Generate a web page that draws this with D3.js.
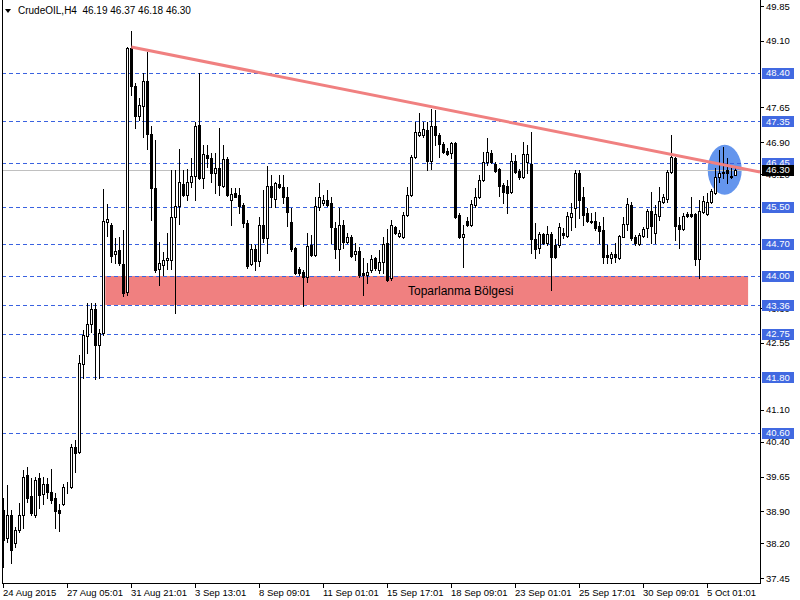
<!DOCTYPE html>
<html><head><meta charset="utf-8">
<script src="https://cdn.jsdelivr.net/npm/d3@7"></script>
<style>body{margin:0;background:#fff}svg{display:block}</style>
</head><body>
<svg id="c" width="800" height="600"></svg>
<script>
const symbol = "CrudeOIL,H4";
const open = [38.92,38.32,38.81,38.20,38.49,38.81,39.68,39.23,38.81,39.62,39.27,39.49,39.32,39.19,38.92,39.05,39.40,39.42,40.29,40.18,42.09,42.70,42.95,43.28,42.50,42.76,45.17,45.10,44.47,44.56,44.26,43.65,48.94,48.12,47.47,47.68,48.22,47.07,45.90,44.15,44.23,44.34,44.34,45.28,45.51,45.99,45.75,46.03,46.16,47.27,46.12,46.62,46.56,46.23,46.34,45.95,46.53,45.64,45.79,45.75,45.53,45.15,44.26,44.58,44.32,45.10,44.82,45.95,45.67,45.99,45.93,45.71,45.17,44.60,44.15,44.08,43.98,44.67,44.45,45.49,45.58,45.64,45.58,45.04,44.58,45.10,44.74,44.85,44.47,44.54,44.06,44.02,44.13,44.39,44.13,44.30,44.71,43.95,45.06,44.87,44.85,45.32,45.75,46.58,47.05,47.05,47.16,46.49,47.25,47.05,46.86,46.71,46.66,46.88,45.32,44.85,45.19,45.10,45.53,45.71,46.08,46.47,46.66,46.43,46.32,45.97,45.95,45.82,46.49,46.27,46.14,46.47,46.43,44.80,44.60,44.91,44.71,44.91,44.67,44.67,44.93,44.87,45.28,45.47,46.23,45.71,45.36,45.19,45.19,45.08,44.99,44.45,44.39,44.47,44.39,44.85,45.12,45.53,44.85,44.69,44.87,45.04,45.41,44.93,45.30,45.60,45.67,46.25,46.56,45.10,45.02,45.34,45.34,45.34,44.37,45.38,45.34,45.60,45.79,46.14,46.23,46.29,46.14,46.19];
const high = [39.19,39.46,38.92,38.56,39.07,39.79,39.86,39.62,39.64,39.73,39.64,39.62,39.81,39.29,39.05,39.49,39.53,40.35,40.44,42.28,42.83,43.41,43.41,43.41,42.85,45.88,45.55,45.15,44.82,44.85,44.99,48.96,49.31,48.18,47.86,48.40,48.85,47.25,46.95,44.74,44.52,44.93,46.29,46.29,46.75,46.29,46.32,46.56,47.34,48.40,46.84,46.84,46.66,46.66,47.21,46.84,46.58,45.90,45.90,45.90,45.58,45.21,44.69,44.67,45.28,45.86,46.38,46.19,46.03,46.19,46.19,45.93,45.47,44.63,44.19,44.13,44.93,44.89,45.71,46.01,45.75,45.86,45.71,45.17,45.47,45.21,44.93,44.89,44.71,44.63,44.39,44.28,44.45,44.41,44.56,44.85,45.02,45.21,45.08,44.99,45.38,45.93,46.62,47.34,47.53,47.34,47.34,47.62,47.60,47.10,46.90,46.77,46.90,46.90,45.36,45.10,45.28,45.64,45.90,46.19,46.69,46.99,46.73,46.47,46.34,46.01,46.08,46.66,46.62,46.32,46.90,46.84,47.12,45.15,44.95,44.93,45.08,44.95,44.80,45.15,45.04,45.38,45.58,46.29,46.29,45.93,45.47,45.36,45.38,45.17,45.28,44.67,44.52,44.71,44.89,45.28,45.69,45.60,44.89,44.93,45.06,45.45,45.82,45.53,45.93,45.77,46.29,47.05,46.58,45.28,45.36,45.38,45.71,45.36,45.64,45.73,45.79,45.88,46.34,46.73,46.79,46.56,46.34,46.37];
const low = [37.69,38.23,37.77,38.12,38.45,38.54,39.10,38.81,38.77,38.96,39.05,39.19,39.07,38.54,38.47,39.03,39.29,39.40,39.75,40.16,41.79,42.33,42.79,41.76,41.79,42.72,44.87,44.30,44.28,44.23,43.56,43.58,47.92,47.21,47.38,47.01,46.75,45.21,44.08,43.80,44.02,44.15,44.15,43.19,45.12,45.73,45.64,45.93,45.64,46.10,45.90,46.36,46.03,45.80,45.75,45.93,45.73,45.10,45.70,45.36,45.06,44.17,44.23,44.13,44.21,44.74,44.50,45.49,45.49,45.90,45.58,45.08,44.54,44.04,44.02,43.35,43.87,44.43,44.43,45.43,45.53,45.51,44.71,44.39,44.13,44.60,44.71,44.41,44.34,43.98,43.58,43.85,44.08,44.13,44.06,44.06,43.89,43.91,44.91,44.85,44.82,45.30,45.73,46.56,47.03,47.01,46.29,46.32,46.84,46.58,46.66,46.62,46.56,45.26,44.82,44.19,45.08,45.08,45.49,45.69,46.06,46.40,46.45,46.25,45.73,45.58,45.36,45.80,46.23,46.10,46.12,46.23,44.50,44.39,44.50,44.69,44.67,43.69,44.39,44.63,44.82,44.85,44.99,45.06,45.26,45.10,45.17,45.15,44.99,44.71,44.28,44.28,44.28,44.30,44.37,44.84,44.99,44.78,44.67,44.67,44.85,44.85,44.71,44.71,45.21,45.58,45.60,46.23,44.78,44.60,44.99,45.28,45.28,44.23,43.95,45.36,45.32,45.58,45.77,46.03,46.12,46.01,46.12,46.18];
const close = [38.27,38.81,38.06,38.49,38.81,39.64,39.19,38.85,39.57,39.25,39.49,39.32,39.14,38.90,38.85,39.42,39.41,40.29,40.16,42.11,42.72,42.95,43.28,42.50,42.76,45.19,45.23,44.43,44.54,44.28,43.63,48.94,48.12,47.47,47.70,48.22,47.07,45.90,44.13,44.28,44.34,44.39,45.28,45.51,46.03,45.75,46.03,46.16,47.25,46.12,46.64,46.56,46.23,46.34,45.97,46.53,45.75,45.77,45.71,45.51,45.15,44.21,44.58,44.32,45.10,44.82,45.95,45.71,46.01,45.93,45.71,45.38,44.58,44.06,44.06,43.98,44.65,44.45,45.51,45.71,45.64,45.53,45.06,44.58,45.10,44.74,44.85,44.43,44.54,44.02,44.02,44.08,44.37,44.17,44.30,44.69,43.91,45.10,44.93,44.93,45.32,45.75,46.58,47.12,47.12,47.18,46.49,47.25,47.05,46.86,46.69,46.64,46.88,45.28,44.85,44.91,45.10,45.56,45.71,46.08,46.47,46.69,46.47,46.27,45.95,45.82,45.79,46.49,46.25,46.14,46.64,46.64,44.80,44.58,44.91,44.71,44.91,44.41,44.41,45.06,44.89,45.30,45.36,46.23,45.64,45.32,45.19,45.17,45.04,44.97,44.41,44.41,44.47,44.41,44.87,45.12,45.56,44.82,44.71,44.89,45.02,45.41,45.08,45.34,45.62,45.71,46.25,46.58,45.08,45.02,45.30,45.30,45.30,44.37,45.41,45.62,45.60,45.84,46.14,46.23,46.25,46.23,46.16,46.30];

const timeTickIndex = [0,16,32,48,64,80,96,112,128,144,160,176];
const timeTickLabels = ["24 Aug 2015","27 Aug 05:01","31 Aug 21:01","3 Sep 13:01","8 Sep 09:01","11 Sep 01:01","15 Sep 17:01","18 Sep 09:01","23 Sep 01:01","25 Sep 17:01","30 Sep 09:01","5 Oct 01:01"];
const priceTicks = [49.85,49.10,47.65,46.90,46.20,43.30,42.55,41.10,40.40,39.65,38.90,38.20,37.45];
const levelLines = [48.40,47.35,46.45,45.50,44.70,44.00,43.36,42.75,41.80,40.60];
const currentPrice = 46.30;
const zoneIndex = [25.5, 186.2];
const zonePrice = [44.00, 43.36];
const zoneLabel = "Toparlanma Bölgesi";
const trendIndex = [32, 189.2];
const trendPrice = [48.96, 46.25];
const ellipseIndex = [180.35, 4.25];   // centre, half-width in bars
const ellipsePrice = [46.30, 0.54];    // centre, half-height in price

const left = 2, right = 760, bottom = 583;
const font = "'Liberation Sans', Arial, sans-serif";
const svg = d3.select("#c");

const x = d3.scaleLinear().domain([0, 183]).range([3.3, 735.3]);
const y = d3.scaleLinear().domain([37.45, 49.85]).range([578, 6]);
const py = v => Math.round(y(v)) + 0.5;
const px = i => Math.round(x(i));

svg.append("defs").append("clipPath").attr("id","plot")
  .append("rect").attr("x", left).attr("y", 0).attr("width", right-left).attr("height", bottom);

const plot = svg.append("g").attr("clip-path","url(#plot)");

// zone
plot.append("rect")
  .attr("x", x(zoneIndex[0])).attr("width", x(zoneIndex[1]) - x(zoneIndex[0]))
  .attr("y", Math.round(y(zonePrice[0]))).attr("height", Math.round(y(zonePrice[1])) - Math.round(y(zonePrice[0])))
  .attr("fill", "#F08080");

// ellipse
plot.append("ellipse")
  .attr("cx", x(ellipseIndex[0])).attr("cy", y(ellipsePrice[0]))
  .attr("rx", x(ellipseIndex[1]) - x(0))
  .attr("ry", y(ellipsePrice[0] - ellipsePrice[1]) - y(ellipsePrice[0]))
  .attr("fill", "#6495ED");

// level lines
plot.selectAll("line.lvl").data(levelLines).join("line").attr("class","lvl")
  .attr("x1", left).attr("x2", right).attr("y1", d => py(d)).attr("y2", d => py(d))
  .attr("stroke", "#3A62E0").attr("stroke-width", 1).attr("stroke-dasharray", "4,3")
  .attr("shape-rendering","crispEdges");

// current price line
plot.append("line").attr("x1", left).attr("x2", right)
  .attr("y1", py(currentPrice)).attr("y2", py(currentPrice))
  .attr("stroke", "#C0C0C0").attr("shape-rendering","crispEdges");

// candles
const idx = d3.range(open.length);
const cg = plot.append("g").attr("shape-rendering","crispEdges");
cg.selectAll("line.wick").data(idx).join("line").attr("class","wick")
  .attr("x1", i => px(i) + 0.5).attr("x2", i => px(i) + 0.5)
  .attr("y1", i => Math.round(y(high[i]))).attr("y2", i => Math.round(y(low[i])) + 1)
  .attr("stroke", "#000");
cg.selectAll("rect.body").data(idx).join("rect").attr("class","body")
  .attr("x", i => px(i) - 0.5).attr("width", 2)
  .attr("y", i => py(Math.max(open[i], close[i])))
  .attr("height", i => Math.max(0, Math.round(y(Math.min(open[i], close[i]))) - Math.round(y(Math.max(open[i], close[i])))))
  .attr("fill", i => close[i] >= open[i] ? "#fff" : "#000")
  .attr("stroke", "#000");

// trend line (ray)
const tSlope = (trendPrice[1] - trendPrice[0]) / (trendIndex[1] - trendIndex[0]);
const tEnd = x.invert(right);
plot.append("line")
  .attr("x1", x(trendIndex[0])).attr("y1", y(trendPrice[0]))
  .attr("x2", x(tEnd)).attr("y2", y(trendPrice[0] + tSlope * (tEnd - trendIndex[0])))
  .attr("stroke", "#F08080").attr("stroke-width", 3);

// zone label
svg.append("text").attr("x", (x(zoneIndex[0]) + x(zoneIndex[1])) / 2 + 34).attr("y", y((zonePrice[0]+zonePrice[1])/2) + 4)
  .attr("text-anchor","middle").attr("font-family", font).attr("font-size", 12).attr("fill","#000")
  .text(zoneLabel);

// frame
svg.append("line").attr("x1", left+0.5).attr("x2", left+0.5).attr("y1", 0).attr("y2", bottom+0.5).attr("stroke","#000").attr("shape-rendering","crispEdges");
svg.append("line").attr("x1", right+0.5).attr("x2", right+0.5).attr("y1", 0).attr("y2", bottom+0.5).attr("stroke","#000").attr("shape-rendering","crispEdges");
svg.append("line").attr("x1", left).attr("x2", right+1).attr("y1", bottom+0.5).attr("y2", bottom+0.5).attr("stroke","#000").attr("shape-rendering","crispEdges");

// right axis ticks + labels
const ra = svg.append("g");
ra.selectAll("line").data(priceTicks).join("line")
  .attr("x1", right).attr("x2", right+4).attr("y1", d => py(d)).attr("y2", d => py(d))
  .attr("stroke","#000").attr("shape-rendering","crispEdges");
ra.selectAll("text").data(priceTicks).join("text")
  .attr("x", right+6).attr("y", d => y(d) + 3.5)
  .attr("font-family", font).attr("font-size", 9.5).attr("fill","#000")
  .text(d => d.toFixed(2));

// level labels
const ll = svg.append("g");
ll.selectAll("rect").data(levelLines).join("rect")
  .attr("x", right+2).attr("width", 32).attr("y", d => Math.round(y(d)) - 5).attr("height", 11)
  .attr("fill", "#4169E1");
ll.selectAll("text").data(levelLines).join("text")
  .attr("x", right+6).attr("y", d => y(d) + 3.5)
  .attr("font-family", font).attr("font-size", 9.5).attr("fill","#fff")
  .text(d => d.toFixed(2));

// current price label
svg.append("rect").attr("x", right+2).attr("width", 32).attr("y", Math.round(y(currentPrice)) - 5).attr("height", 11).attr("fill","#000");
svg.append("text").attr("x", right+6).attr("y", y(currentPrice) + 3.5)
  .attr("font-family", font).attr("font-size", 9.5).attr("fill","#fff").text(currentPrice.toFixed(2));

// bottom axis
const ba = svg.append("g");
ba.selectAll("line").data(timeTickIndex).join("line")
  .attr("x1", i => px(i)+0.5).attr("x2", i => px(i)+0.5).attr("y1", bottom).attr("y2", bottom+5)
  .attr("stroke","#000").attr("shape-rendering","crispEdges");
ba.selectAll("text").data(timeTickIndex).join("text")
  .attr("x", i => px(i)).attr("y", 596)
  .attr("font-family", font).attr("font-size", 9.5).attr("fill","#000")
  .text((d, k) => timeTickLabels[k]);

// header
svg.append("path").attr("d","M5,9 L11,9 L8,13 Z").attr("fill","#000");
svg.append("text").attr("x", 18).attr("y", 14).attr("xml:space","preserve").style("white-space","pre")
  .attr("font-family", font).attr("font-size", 10).attr("fill","#000")
  .text(symbol + "  " + [open[183], high[183], low[183], close[183]].map(v => v.toFixed(2)).join(" "));
</script>
</body></html>
